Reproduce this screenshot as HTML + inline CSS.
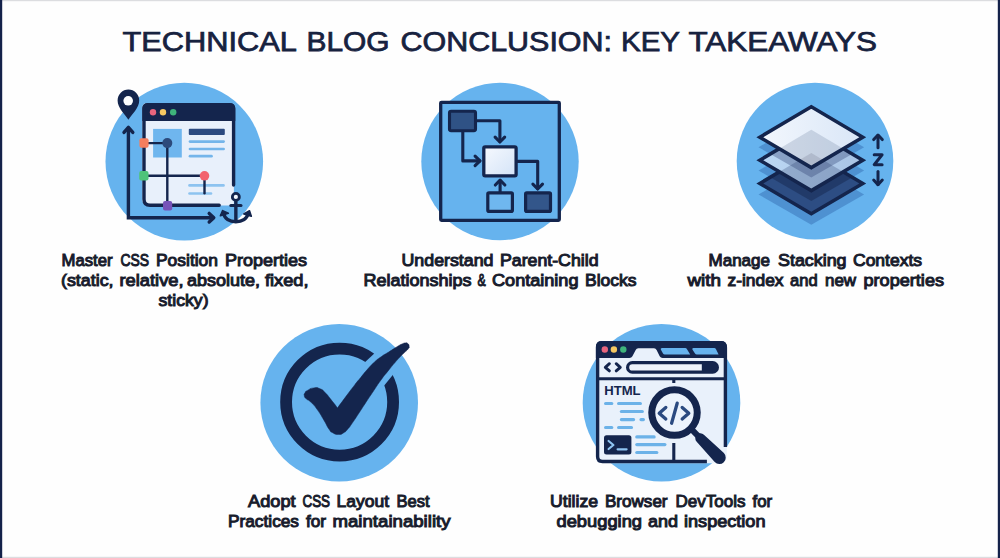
<!DOCTYPE html>
<html lang="en">
<head>
<meta charset="utf-8">
<title>Technical Blog Conclusion: Key Takeaways</title>
<style>
  html, body { margin: 0; padding: 0; background: #fefefe; }
  body { width: 1000px; height: 558px; overflow: hidden; font-family: "Liberation Sans", sans-serif; }
  svg { display: block; }
  .title { font-family: "Liberation Sans", sans-serif; font-weight: 400; font-size: 27.5px; fill: #17223f; stroke: #17223f; stroke-width: 0.75px; }
  .lbl { font-family: "Liberation Sans", sans-serif; font-weight: 400; font-size: 16.8px; fill: #181c2c; stroke: #181c2c; stroke-width: 1.0px; }
</style>
</head>
<body>
<svg width="1000" height="558" viewBox="0 0 1000 558">
  <!-- background + frame -->
  <rect x="0" y="0" width="1000" height="558" fill="#fefefe"/>
  <rect x="0" y="0" width="1000" height="1.2" fill="#dcdde0"/>
  <rect x="0" y="556.8" width="1000" height="1.2" fill="#dcdde0"/>
  <rect x="0" y="0" width="2.2" height="558" fill="#14224a"/>
  <rect x="997.8" y="0" width="2.2" height="558" fill="#14224a"/>

  <!-- title -->
  <text class="title" x="122.5" y="51.25" textLength="174.5" lengthAdjust="spacingAndGlyphs">TECHNICAL</text>
  <text class="title" x="306.5" y="51.25" textLength="83.06" lengthAdjust="spacingAndGlyphs">BLOG</text>
  <text class="title" x="400.5" y="51.25" textLength="211.52" lengthAdjust="spacingAndGlyphs">CONCLUSION:</text>
  <text class="title" x="621.0" y="51.25" textLength="59.06" lengthAdjust="spacingAndGlyphs">KEY</text>
  <text class="title" x="688.5" y="51.25" textLength="188.5" lengthAdjust="spacingAndGlyphs">TAKEAWAYS</text>

  <!-- circles -->
  <circle cx="184.3" cy="161.6" r="78.8" fill="#66b3ee"/>
  <circle cx="500" cy="161.5" r="78.7" fill="#66b3ee"/>
  <circle cx="815" cy="161.1" r="78.3" fill="#66b3ee"/>
  <circle cx="339.2" cy="402.7" r="78.8" fill="#66b3ee"/>
  <circle cx="661.5" cy="402.7" r="78.8" fill="#66b3ee"/>

  <!-- ICON1 -->
  <g id="icon1">
    <!-- window body -->
    <path d="M142.3 108 Q142.3 103.1 147.3 103.1 H229 Q233.9 103.1 233.9 108 V205.4 H148.3 Q142.3 205.4 142.3 200 Z" fill="#e8f0fb"/>
    <!-- title bar -->
    <path d="M142.3 121 V108.6 Q142.3 103.1 147.8 103.1 H229.8 Q235.3 103.1 235.3 108.6 V121 Z" fill="#14254d"/>
    <circle cx="153" cy="112.2" r="3.2" fill="#e8657d"/>
    <circle cx="163" cy="112.2" r="3.2" fill="#f6c862"/>
    <circle cx="173.2" cy="112.2" r="3.2" fill="#3fb47b"/>
    <!-- content -->
    <rect x="153.1" y="128.9" width="28.7" height="28.6" fill="#6fb6ee"/>
    <rect x="188.8" y="128.7" width="36" height="6.3" rx="1" fill="#2b4a80"/>
    <g stroke="#74b5ea" stroke-width="2.7" stroke-linecap="round" fill="none">
      <path d="M190 141.6 H223.6"/>
      <path d="M190 149 H223.6"/>
      <path d="M190 156.2 H211.5"/>
    </g>
    <g stroke="#8dc3f0" stroke-width="2.6" stroke-linecap="round" fill="none">
      <path d="M189.5 185.4 H223.5"/>
      <path d="M189.5 193.5 H211"/>
    </g>
    <!-- window border -->
    <path d="M233.6 185 V109.5 Q233.6 104.8 228.9 104.8 H148.8 Q144 104.8 144 109.5 V199.3 Q144 205.3 150 205.3 H219.2" fill="none" stroke="#14254d" stroke-width="3.4" stroke-linecap="round"/>
    <!-- axes -->
    <path d="M128.4 127.5 V217.7 H213.5" fill="none" stroke="#14254d" stroke-width="3.4" stroke-linejoin="miter"/>
    <path d="M124 132.4 L128.4 127.3 L132.8 132.4" fill="none" stroke="#14254d" stroke-width="3.4" stroke-linecap="round" stroke-linejoin="round"/>
    <path d="M209.2 213.4 L213.8 217.7 L209.2 222" fill="none" stroke="#14254d" stroke-width="3.4" stroke-linecap="round" stroke-linejoin="round"/>
    <!-- guide lines -->
    <g stroke="#14254d" stroke-width="2.4" fill="none">
      <path d="M144 143.1 H167.3 V205.5"/>
      <path d="M144 175.8 H204.5"/>
      <path d="M204.5 175.8 V193.2" stroke-linecap="round"/>
    </g>
    <circle cx="167.3" cy="143.1" r="5" fill="#2c4a7c"/>
    <circle cx="204.5" cy="175.8" r="4.8" fill="#f2626e"/>
    <rect x="139.4" y="138.3" width="9.2" height="9.4" rx="2" fill="#f47e5e"/>
    <rect x="139.2" y="171" width="9.3" height="9.4" rx="2" fill="#4fc37a"/>
    <rect x="163" y="201" width="9.2" height="9.4" rx="2" fill="#7653b8"/>
    <!-- pin -->
    <path d="M128.4 119.8 C124.6 113.6 117.6 108 117.6 100.4 A10.8 10.8 0 1 1 139.2 100.4 C139.2 108 132.2 113.6 128.4 119.8 Z" fill="#14254d"/>
    <circle cx="128.2" cy="100.8" r="4.8" fill="#fdfeff"/>
    <!-- anchor -->
    <g fill="none" stroke="#14254d" stroke-linecap="round" stroke-linejoin="round">
      <circle cx="235.85" cy="196.9" r="3.5" stroke-width="2.8" fill="#f4f8fd"/>
      <path d="M235.85 201 V221.4" stroke-width="3.4" stroke-linecap="butt"/>
      <path d="M230.8 205.5 H241" stroke-width="3"/>
      <path d="M223.6 213.4 C224.6 218.7 229.4 221.7 235.85 221.7 C242.3 221.7 247.1 218.7 248.1 213.4" stroke-width="3.4"/>
    </g>
    <path d="M220.4 215.8 L222.6 210.6 L228.3 213.3 Z" fill="#14254d" stroke="#14254d" stroke-width="1.6" stroke-linejoin="round"/>
    <path d="M251.3 216.2 L249.5 210.8 L243.8 213.9 Z" fill="#14254d" stroke="#14254d" stroke-width="1.6" stroke-linejoin="round"/>
  </g>
  <!-- ICON2 -->
  <g id="icon2">
    <defs>
      <linearGradient id="g2c" x1="0" y1="0" x2="1" y2="1">
        <stop offset="0" stop-color="#f6f9fe"/><stop offset="1" stop-color="#d3e3f7"/>
      </linearGradient>
    </defs>
    <rect x="440.7" y="102.3" width="118.6" height="118.1" rx="0.8" fill="#66b3ee" stroke="#14254d" stroke-width="3.3"/>
    <g fill="none" stroke="#14254d" stroke-width="3.1" stroke-linecap="round" stroke-linejoin="round">
      <!-- arrow 1 -->
      <path d="M477 120.8 H499.9 V141.6"/>
      <path d="M495.1 137.2 L499.9 142 L504.7 137.2"/>
      <!-- arrow 2 -->
      <path d="M462.8 131.5 V160.9 H479.8"/>
      <path d="M475.1 156.1 L480 160.9 L475.1 165.7"/>
      <!-- arrow 3 -->
      <path d="M517.5 161.4 H537.7 V188.6"/>
      <path d="M532.9 184.2 L537.7 189 L542.5 184.2"/>
      <!-- arrow 4 -->
      <path d="M500.1 192 V180.8"/>
      <path d="M495.3 185 L500.1 180.2 L504.9 185"/>
    </g>
    <rect x="449.5" y="111.2" width="26" height="19.5" rx="1.6" fill="#2f5285" stroke="#14254d" stroke-width="3.1"/>
    <rect x="483.8" y="146.8" width="32.3" height="29.1" rx="1.4" fill="url(#g2c)" stroke="#14254d" stroke-width="3.3"/>
    <rect x="487.8" y="192.9" width="24.6" height="18.5" rx="1.2" fill="#6fb7ef" stroke="#14254d" stroke-width="3.2"/>
    <rect x="525.6" y="192.9" width="24.9" height="18.5" rx="1.2" fill="#33568a" stroke="#14254d" stroke-width="3.2"/>
  </g>
  <!-- ICON3 -->
  <g id="icon3">
    <defs>
      <linearGradient id="g3t" x1="0" y1="0" x2="1" y2="0">
        <stop offset="0" stop-color="#f3f7fd"/><stop offset="1" stop-color="#d9e6f7"/>
      </linearGradient>
      <linearGradient id="g3m" x1="0" y1="0" x2="1" y2="0">
        <stop offset="0" stop-color="#bcd8f4"/><stop offset="1" stop-color="#a9c3e4"/>
      </linearGradient>
      <clipPath id="c3t"><path d="M759.8 137.2 L811.3 106.8 L862.8 137.2 L811.3 167.6 Z"/></clipPath>
      <clipPath id="c3m"><path d="M759.8 160.2 L811.3 129.8 L862.8 160.2 L811.3 190.6 Z"/></clipPath>
      <clipPath id="c3b"><path d="M759.8 183.4 L811.3 153.0 L862.8 183.4 L811.3 213.8 Z"/></clipPath>
    </defs>
    <!-- shadows on background -->
    <path d="M758.5 194.4 L811.3 164.0 L864.1 194.4 L811.3 224.8 Z" fill="#2a5fa5" fill-opacity="0.40"/>
    <path d="M758.5 170.6 L811.3 140.2 L864.1 170.6 L811.3 201.0 Z" fill="#2a5fa5" fill-opacity="0.40"/>
    <!-- bottom layer -->
    <path d="M759.8 183.4 L811.3 153.0 L862.8 183.4 L811.3 213.8 Z" fill="#2d4d83"/>
    <g clip-path="url(#c3b)">
      <path d="M758.5 170.6 L811.3 140.2 L864.1 170.6 L811.3 201.0 Z" fill="#101d40" fill-opacity="0.38"/>
    </g>
    <path d="M759.8 183.4 L811.3 153.0 L862.8 183.4 L811.3 213.8 Z" fill="none" stroke="#14254d" stroke-width="3.5" stroke-linejoin="miter" stroke-miterlimit="6"/>
    <!-- top shadow on background -->
    <path d="M758.5 147.2 L811.3 116.8 L864.1 147.2 L811.3 177.6 Z" fill="#2a5fa5" fill-opacity="0.40"/>
    <!-- mid layer -->
    <path d="M759.8 160.2 L811.3 129.8 L862.8 160.2 L811.3 190.6 Z" fill="url(#g3m)"/>
    <g clip-path="url(#c3m)">
      <path d="M759.8 183.4 L811.3 153.0 L862.8 183.4 L811.3 213.8 Z" fill="#3a4f7c" fill-opacity="0.30"/>
      <path d="M758.5 147.2 L811.3 116.8 L864.1 147.2 L811.3 177.6 Z" fill="#2b3f6e" fill-opacity="0.34"/>
    </g>
    <path d="M759.8 160.2 L811.3 129.8 L862.8 160.2 L811.3 190.6 Z" fill="none" stroke="#14254d" stroke-width="3.5" stroke-linejoin="miter" stroke-miterlimit="6"/>
    <!-- top layer -->
    <path d="M759.8 137.2 L811.3 106.8 L862.8 137.2 L811.3 167.6 Z" fill="url(#g3t)"/>
    <g clip-path="url(#c3t)">
      <path d="M759.8 160.2 L811.3 129.8 L862.8 160.2 L811.3 190.6 Z" fill="#6c7f9f" fill-opacity="0.26"/>
      <path d="M759.8 183.4 L811.3 153.0 L862.8 183.4 L811.3 213.8 Z" fill="#6c6f86" fill-opacity="0.24"/>
    </g>
    <path d="M759.8 137.2 L811.3 106.8 L862.8 137.2 L811.3 167.6 Z" fill="none" stroke="#14254d" stroke-width="3.5" stroke-linejoin="miter" stroke-miterlimit="6"/>
    <!-- z arrows -->
    <g fill="none" stroke="#14254d" stroke-width="3" stroke-linecap="round" stroke-linejoin="round">
      <path d="M878 135.4 V147.8"/>
      <path d="M873.7 139.6 L878 135 L882.3 139.6"/>
      <path d="M874.2 154.8 H882.1 L874.2 164.7 H882.1"/>
      <path d="M878 171.5 V184.4"/>
      <path d="M873.7 180 L878 184.7 L882.3 180"/>
    </g>
  </g>
  <!-- ICON4 -->
  <g id="icon4">
    <circle cx="339.6" cy="402.1" r="53.5" fill="none" stroke="#14254d" stroke-width="11.8"/>
    <path d="M362 364.9 L378 349.9 L395.6 371.4 L382 388.2 Z" fill="#66b3ee"/>
    <path d="M337.5 407.9 C340.0 404.5 339.3 405.4 345.1 397.6 C350.9 389.8 349.9 391.1 355.0 384.5 C360.1 377.9 356.4 382.8 360.5 377.8 C364.6 372.8 362.6 374.8 367.2 369.6 C371.8 364.4 369.5 366.6 374.3 362.2 C379.1 357.8 376.7 359.9 381.5 356.5 C386.3 353.1 383.3 355.4 388.7 352.0 C394.1 348.6 393.3 349.0 397.7 346.3 C402.1 343.6 399.4 345.1 402.0 344.0 C404.6 342.9 403.4 343.0 405.4 342.9 C407.4 342.8 406.8 342.7 408.0 343.8 C409.2 344.9 409.0 344.6 409.1 346.3 C409.2 348.0 410.0 346.6 408.3 348.8 C406.6 351.0 406.8 350.3 404.0 353.0 C401.2 355.7 402.7 354.1 400.0 357.0 C397.3 359.9 399.6 357.2 395.8 361.6 C392.0 366.0 393.6 364.1 388.7 370.2 C383.8 376.3 385.9 373.3 381.0 380.0 C376.1 386.7 378.8 383.1 374.0 390.3 C369.2 397.5 371.5 393.9 366.5 401.5 C361.5 409.1 363.8 405.7 359.0 413.0 C354.2 420.3 355.7 418.2 352.0 423.5 C348.3 428.8 350.7 425.7 348.0 428.8 C345.3 431.9 347.0 430.8 343.8 432.7 C340.6 434.6 342.2 434.4 338.5 434.4 C334.8 434.4 335.8 434.5 332.6 432.7 C329.4 430.9 331.8 433.2 328.9 429.0 C326.0 424.8 327.7 426.5 323.9 420.2 C320.1 413.9 321.8 416.0 317.6 410.1 C313.4 404.2 315.1 406.4 311.3 402.6 C307.5 398.8 308.6 401.1 306.3 398.8 C304.0 396.5 304.7 397.7 304.3 395.7 C303.9 393.7 303.9 394.6 305.0 392.8 C306.1 391.0 304.6 392.0 307.5 390.4 C310.4 388.8 309.6 388.4 313.8 387.9 C318.0 387.4 316.3 387.2 320.1 388.8 C323.9 390.4 321.3 388.8 325.1 392.6 C328.9 396.4 327.3 395.0 331.4 400.1 C335.5 405.2 335.5 405.3 337.5 407.9 Z" fill="#14254d" stroke="#14254d" stroke-width="0.5" stroke-linejoin="round"/>
  </g>
  <!-- ICON5 -->
  <g id="icon5">
    <!-- window body -->
    <path d="M595.9 346.5 Q595.9 340.9 601.5 340.9 H721.2 Q726.8 340.9 726.8 346.5 V456 Q726.8 463.2 719.6 463.2 H601.5 Q595.9 463.2 595.9 457.6 Z" fill="#e9f1fb"/>
    <!-- title bar with active tab cut-out -->
    <path d="M595.9 358 V346.5 Q595.9 340.9 601.5 340.9 H721.2 Q726.8 340.9 726.8 346.5 V358 H662.6 Q660.6 358 659.7 356.2 L656.6 349.9 Q655.8 348.3 654 348.3 H638.3 Q636.5 348.3 635.7 349.9 L632.4 356.2 Q631.5 358 629.5 358 Z" fill="#14254d"/>
    <circle cx="604.8" cy="349.5" r="3.2" fill="#e8657d"/>
    <circle cx="613.9" cy="349.5" r="3.2" fill="#f6c862"/>
    <circle cx="623.3" cy="349.5" r="3.2" fill="#3fb47b"/>
    <!-- inactive tabs -->
    <path d="M662 348.1 H685.2 Q686.4 348.1 687 349.2 L690.2 354.6 H664.8 Q663.6 354.6 663 353.5 L660.8 349.6 Q660.2 348.1 662 348.1 Z" fill="#66b3ee"/>
    <path d="M693.4 348.1 H714.2 Q715.4 348.1 716 349.2 L718.6 354.6 H696.8 Q695.6 354.6 695 353.5 L692.4 349.6 Q691.8 348.1 693.4 348.1 Z" fill="#66b3ee"/>
    <!-- toolbar -->
    <g fill="none" stroke="#14254d" stroke-width="2.9" stroke-linecap="round" stroke-linejoin="round">
      <path d="M609.4 363.7 L605.3 367.3 L609.4 370.9"/>
      <path d="M616.2 363.7 L620.3 367.3 L616.2 370.9"/>
    </g>
    <rect x="627.6" y="362.7" width="89.8" height="9.4" rx="4.7" fill="#eef3fb" stroke="#14254d" stroke-width="3.2"/>
    <path d="M701.8 362.7 H712.7 A4.7 4.7 0 0 1 712.7 372.1 H701.8 Z" fill="#14254d"/>
    <path d="M597.6 378.7 H725.4" stroke="#14254d" stroke-width="3.1" fill="none"/>
    <path d="M673.8 378.7 V382.9 M673.8 443.1 V461.5" stroke="#14254d" stroke-width="3.1" fill="none"/>
    <!-- html text -->
    <text x="604.3" y="395.3" font-family="Liberation Sans, sans-serif" font-weight="700" font-size="13.4" fill="#14254d" textLength="36.3" lengthAdjust="spacingAndGlyphs">HTML</text>
    <!-- code lines -->
    <g stroke="#6cb2e8" stroke-width="3.2" stroke-linecap="round" fill="none">
      <path d="M605.6 403.5 H611.8 M618.6 403.5 H640.4"/>
      <path d="M621.4 411.5 H642.3"/>
      <path d="M621.4 419.6 H633.6 M641 419.6 H643.4"/>
      <path d="M605.6 427.5 H611.8 M618.6 427.5 H631.5"/>
      <path d="M636.8 436.9 H654.1"/>
      <path d="M636.8 444.6 H664.9"/>
      <path d="M636.8 452.5 H656.8"/>
    </g>
    <!-- terminal -->
    <rect x="604" y="435.3" width="27.4" height="19.3" rx="2.5" fill="#14254d"/>
    <path d="M608.6 441 L613.4 445 L608.6 449 M617.6 449.3 H626.6" fill="none" stroke="#8ec4f2" stroke-width="2.2" stroke-linecap="round" stroke-linejoin="round"/>
    <!-- window border -->
    <path d="M725.4 446.9 V347.6 Q725.4 342.6 720.4 342.6 H602.6 Q597.6 342.6 597.6 347.6 V456.5 Q597.6 461.5 602.6 461.5 H706.9" fill="none" stroke="#14254d" stroke-width="3.4"/>
    <!-- magnifier -->
    <path d="M692.3 430.2 L700.5 438.4" stroke="#14254d" stroke-width="6" fill="none"/>
    <path d="M703.9 434.8 L723.9 453.1 A6.4 6.4 0 0 1 714.7 462.1 L696.7 441.8 A5 5 0 0 1 703.9 434.8 Z" fill="#14254d"/>
    <circle cx="674.5" cy="412.6" r="22.75" fill="#ecf3fc" stroke="#14254d" stroke-width="7"/>
    <g fill="none" stroke="#2b4a80" stroke-width="3.3" stroke-linecap="round" stroke-linejoin="round">
      <path d="M665.8 407.4 L659.2 413.2 L665.8 419"/>
      <path d="M682.2 407.4 L688.8 413.2 L682.2 419"/>
      <path d="M677.2 403.2 L671.6 423.2"/>
    </g>
  </g>

  <!-- labels -->
  <text class="lbl" x="61.5" y="266.35" textLength="51.01" lengthAdjust="spacingAndGlyphs">Master</text>
  <text class="lbl" x="120.5" y="266.35" textLength="28.52" lengthAdjust="spacingAndGlyphs">CSS</text>
  <text class="lbl" x="156.0" y="266.35" textLength="62.0" lengthAdjust="spacingAndGlyphs">Position</text>
  <text class="lbl" x="225.0" y="266.35" textLength="82.01" lengthAdjust="spacingAndGlyphs">Properties</text>
  <text class="lbl" x="61.0" y="286.15" textLength="52.53" lengthAdjust="spacingAndGlyphs">(static,</text>
  <text class="lbl" x="119.5" y="286.15" textLength="64.02" lengthAdjust="spacingAndGlyphs">relative,</text>
  <text class="lbl" x="187.0" y="286.15" textLength="73.02" lengthAdjust="spacingAndGlyphs">absolute,</text>
  <text class="lbl" x="265.0" y="286.15" textLength="43.52" lengthAdjust="spacingAndGlyphs">fixed,</text>
  <text class="lbl" x="158.5" y="306.05" textLength="50.01" lengthAdjust="spacingAndGlyphs">sticky)</text>
  <text class="lbl" x="401.5" y="266.35" textLength="92.01" lengthAdjust="spacingAndGlyphs">Understand</text>
  <text class="lbl" x="500" y="266.35" textLength="98.5" lengthAdjust="spacingAndGlyphs">Parent-Child</text>
  <text class="lbl" x="363.5" y="286.15" textLength="108.02" lengthAdjust="spacingAndGlyphs">Relationships</text>
  <text class="lbl" x="477.5" y="286.15" textLength="8.24" lengthAdjust="spacingAndGlyphs">&amp;</text>
  <text class="lbl" x="492.0" y="286.15" textLength="86.51" lengthAdjust="spacingAndGlyphs">Containing</text>
  <text class="lbl" x="585.0" y="286.15" textLength="51.52" lengthAdjust="spacingAndGlyphs">Blocks</text>
  <text class="lbl" x="708.5" y="266.35" textLength="61.51" lengthAdjust="spacingAndGlyphs">Manage</text>
  <text class="lbl" x="778.0" y="266.35" textLength="68.52" lengthAdjust="spacingAndGlyphs">Stacking</text>
  <text class="lbl" x="853.0" y="266.35" textLength="69.02" lengthAdjust="spacingAndGlyphs">Contexts</text>
  <text class="lbl" x="687.5" y="286.05" textLength="33.53" lengthAdjust="spacingAndGlyphs">with</text>
  <text class="lbl" x="727.5" y="286.05" textLength="56.03" lengthAdjust="spacingAndGlyphs">z-index</text>
  <text class="lbl" x="790.0" y="286.05" textLength="27.59" lengthAdjust="spacingAndGlyphs">and</text>
  <text class="lbl" x="825.0" y="286.05" textLength="31.14" lengthAdjust="spacingAndGlyphs">new</text>
  <text class="lbl" x="863.5" y="286.05" textLength="80.51" lengthAdjust="spacingAndGlyphs">properties</text>
  <text class="lbl" x="248.0" y="507.35" textLength="47.56" lengthAdjust="spacingAndGlyphs">Adopt</text>
  <text class="lbl" x="302.5" y="507.35" textLength="27.56" lengthAdjust="spacingAndGlyphs">CSS</text>
  <text class="lbl" x="336.5" y="507.35" textLength="52.52" lengthAdjust="spacingAndGlyphs">Layout</text>
  <text class="lbl" x="396.5" y="507.35" textLength="33.07" lengthAdjust="spacingAndGlyphs">Best</text>
  <text class="lbl" x="228" y="527.25" textLength="71.01" lengthAdjust="spacingAndGlyphs">Practices</text>
  <text class="lbl" x="306.0" y="527.25" textLength="20.06" lengthAdjust="spacingAndGlyphs">for</text>
  <text class="lbl" x="332.5" y="527.25" textLength="118.01" lengthAdjust="spacingAndGlyphs">maintainability</text>
  <text class="lbl" x="550" y="507.35" textLength="48.01" lengthAdjust="spacingAndGlyphs">Utilize</text>
  <text class="lbl" x="605.0" y="507.35" textLength="62.54" lengthAdjust="spacingAndGlyphs">Browser</text>
  <text class="lbl" x="675.5" y="507.35" textLength="70.01" lengthAdjust="spacingAndGlyphs">DevTools</text>
  <text class="lbl" x="752.5" y="507.35" textLength="19.63" lengthAdjust="spacingAndGlyphs">for</text>
  <text class="lbl" x="556.5" y="527.25" textLength="85.5" lengthAdjust="spacingAndGlyphs">debugging</text>
  <text class="lbl" x="648.0" y="527.25" textLength="30.03" lengthAdjust="spacingAndGlyphs">and</text>
  <text class="lbl" x="684.0" y="527.25" textLength="81.52" lengthAdjust="spacingAndGlyphs">inspection</text>
</svg>
</body>
</html>
